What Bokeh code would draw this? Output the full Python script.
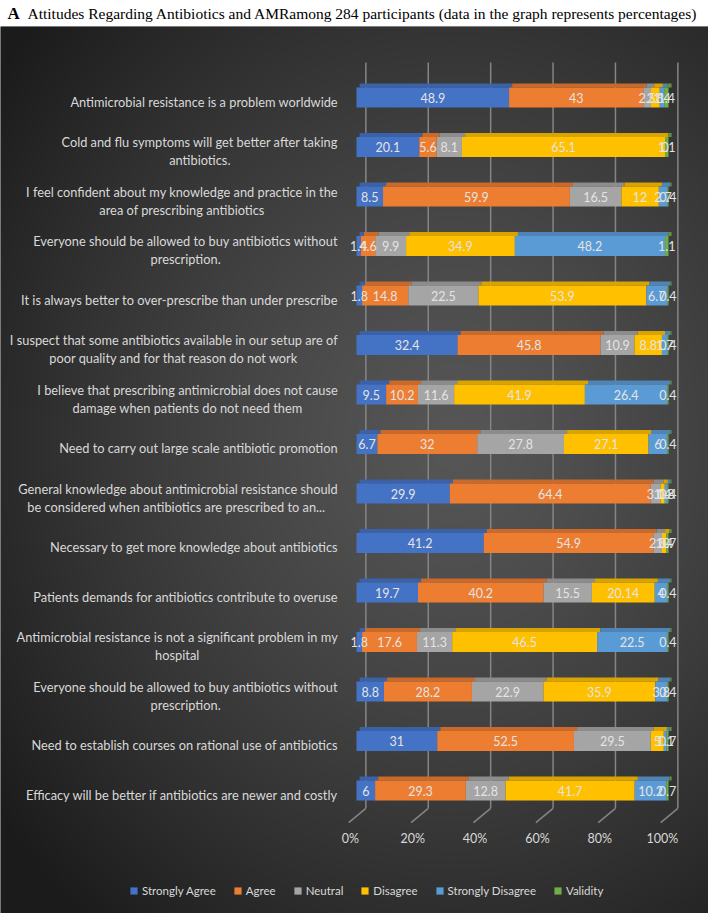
import subprocess
import numpy as np
from bokeh.plotting import figure
from bokeh.models import ColumnDataSource, Range1d, Legend, LegendItem
from bokeh.layouts import column
from bokeh.core.properties import value
from bokeh.transform import dodge
from bokeh.embed import file_html
from bokeh.resources import INLINE

# ---------------- data ----------------
statements = [
    "Antimicrobial resistance is a problem worldwide",
    "Cold and flu symptoms will get better after taking\nantibiotics.",
    "I feel confident about my knowledge and practice in the\narea of prescribing antibiotics",
    "Everyone should be allowed to buy antibiotics without\nprescription.",
    "It is always better to over-prescribe than under prescribe",
    "I suspect that some antibiotics available in our setup are of\npoor quality and for that reason do not work",
    "I believe that prescribing antimicrobial does not cause\ndamage when patients do not need them",
    "Need to carry out large scale antibiotic promotion",
    "General knowledge about antimicrobial resistance should\nbe considered when antibiotics  are prescribed to an...",
    "Necessary to get more knowledge about antibiotics",
    "Patients demands for antibiotics contribute to overuse",
    "Antimicrobial resistance is not a significant problem in my\nhospital",
    "Everyone should be allowed to buy antibiotics without\nprescription.",
    "Need to establish courses on rational use of antibiotics",
    "Efficacy will be better if antibiotics are newer and costly",
]
series_names = ["Strongly Agree", "Agree", "Neutral", "Disagree", "Strongly Disagree", "Validity"]
strongly_agree    = [48.9, 20.1, 8.5, 1.4, 1.8, 32.4, 9.5, 6.7, 29.9, 41.2, 19.7, 1.8, 8.8, 31, 6]
agree             = [43, 5.6, 59.9, 4.6, 14.8, 45.8, 10.2, 32, 64.4, 54.9, 40.2, 17.6, 28.2, 52.5, 29.3]
neutral           = [2.5, 8.1, 16.5, 9.9, 22.5, 10.9, 11.6, 27.8, 3.1, 2.8, 15.5, 11.3, 22.9, 29.5, 12.8]
disagree          = [2.8, 65.1, 12, 34.9, 53.9, 8.8, 41.9, 27.1, 1.4, 1.4, 20.14, 46.5, 35.9, 5.0, 41.7]
strongly_disagree = [1.4, 0, 2.7, 48.2, 6.7, 1.7, 26.4, 6, 0.8, 0, 4.0, 22.5, 3.8, 1.1, 10.2]
validity          = [1.4, 1.1, 0.4, 1.1, 0.4, 0.4, 0.4, 0.4, 0.4, 0.7, 0.4, 0.4, 0.4, 0.7, 0.7]
x_ticks = [0, 20, 40, 60, 80, 100]
x_tick_labels = ["0%", "20%", "40%", "60%", "80%", "100%"]

series_values = [strongly_agree, agree, neutral, disagree, strongly_disagree, validity]
colors = ["#4472C4", "#ED7D31", "#A5A5A5", "#FFC000", "#5B9BD5", "#70AD47"]
top_colors = ["#3B62A8", "#C9692A", "#8C8C8C", "#D9A300", "#4E85B6", "#5F933C"]

# ---------------- layout constants ----------------
W = 708
TITLE_H = 26
MAIN_H = 887
PX = 3.12          # px per percent
X0 = 356           # canvas px of 0 %
ROW0 = 71          # canvas px of first bar centre
ROWPX = 49.5       # px between bars
FONT = value("Lato")
TXT = "#D9D9D9"
LABEL_PX = 12.8
LABEL_RIGHT = -6.0  # data units (right edge of category labels)


def text_width_px(s, size):
    """Measure the rendered width of a line with the installed Lato font (fallback: estimate)."""
    try:
        from PIL import ImageFont
        path = subprocess.run(["fc-match", "-f", "%{file}", "Lato"], capture_output=True,
                              text=True).stdout.strip()
        f = ImageFont.truetype(path, 100)
        return f.getlength(s) * size / 100.0
    except Exception:
        return len(s) * size * 0.47


# ---------------- title ----------------
t = figure(width=W, height=TITLE_H, x_range=Range1d(0, W), y_range=Range1d(0, TITLE_H),
           output_backend="svg", toolbar_location=None, min_border=0)
t.axis.visible = False
t.grid.visible = False
t.outline_line_color = None
t.background_fill_color = "white"
t.border_fill_color = "white"
t.text(x=[7], y=[TITLE_H - 13], text=["A"], text_font=value("Liberation Serif"),
       text_font_style="bold", text_font_size="17px", text_baseline="middle", text_color="black")
t.text(x=[27], y=[TITLE_H - 13],
       text=["Attitudes Regarding Antibiotics and AMRamong 284 participants (data in the graph represents percentages)"],
       text_font=value("Liberation Serif"), text_font_size="15.5px", text_baseline="middle",
       text_color="black")

# ---------------- main chart ----------------
y_top = ROW0 / ROWPX
y_bot = -(MAIN_H - ROW0) / ROWPX
xr = Range1d(-X0 / PX, (W - X0) / PX)
yr = Range1d(y_bot, y_top)
p = figure(width=W, height=MAIN_H, x_range=xr, y_range=yr, output_backend="svg",
           toolbar_location=None, min_border=0)
p.axis.visible = False
p.grid.visible = False
p.outline_line_color = None
p.background_fill_color = "#333333"
p.border_fill_color = "#333333"

# radial gradient background
gh, gw = MAIN_H // 2, W // 2
vv, uu = np.mgrid[0:gh, 0:gw]
u = uu / (gw - 1)
v = 1 - vv / (gh - 1)          # row 0 = bottom
d = np.sqrt(((u - 0.64) / 0.80) ** 2 + ((v - 0.47) / 0.72) ** 2)
d = np.clip(d, 0, 1)
c_in, c_out = 0x56, 0x1B
g = (c_in + (c_out - c_in) * d ** 1.3).astype(np.uint8)
img = np.empty((gh, gw), dtype=np.uint32)
view = img.view(dtype=np.uint8).reshape((gh, gw, 4))
view[:, :, 0] = g
view[:, :, 1] = g
view[:, :, 2] = g
view[:, :, 3] = 255
p.image_rgba(image=[img], x=xr.start, y=yr.start, dw=xr.end - xr.start, dh=yr.end - yr.start)

n = len(statements)
ys = [-i for i in range(n)]

# gridlines (back plane) with perspective feet
tk = np.array(x_ticks, dtype=float)
back_top = 0.707
back_bot = -14.36
front = -14.65
p.segment(x0=tk + 3, y0=[back_top] * len(tk), x1=tk + 3, y1=[back_bot] * len(tk),
          line_color="#858585", line_width=1.5)
p.segment(x0=tk + 3, y0=[back_bot] * len(tk), x1=tk - 2.5, y1=[front] * len(tk),
          line_color="#858585", line_width=1.5)
p.text(x=tk - 2, y=[-14.97] * len(tk), text=x_tick_labels, text_font=FONT, text_font_size="12.5px",
       text_align="center", text_baseline="middle", text_color=TXT)

# stacked bars (100 % normalised)
vals = np.array(series_values, dtype=float)
totals = vals.sum(axis=0)
pct = vals / totals * 100
cum = np.vstack([np.zeros(n), np.cumsum(pct, axis=0)])
FACE_H = 20 / ROWPX
TOP_H = 4 / ROWPX
renderers = []
for k, name in enumerate(series_names):
    left = cum[k]
    right = cum[k + 1]
    src = ColumnDataSource(dict(y=ys, left=left, right=right))
    p.hbar(y=dodge("y", FACE_H / 2 + TOP_H / 2), left=dodge("left", 1.0), right=dodge("right", 1.0),
           height=TOP_H, source=src, fill_color=top_colors[k], line_color=None)
    r = p.hbar(y="y", left="left", right="right", height=FACE_H, source=src,
               fill_color=colors[k], line_color=None)
    renderers.append(r)
for k, name in enumerate(series_names):
    left = cum[k]
    right = cum[k + 1]
    src = ColumnDataSource(dict(y=ys, mid=(left + right) / 2,
                                lab=[f"{x:g}" for x in series_values[k]]))
    p.text(x="mid", y="y", text="lab", source=src, text_font=FONT, text_font_size="12.5px",
           text_align="center", text_baseline="middle", text_color="#E4E4E4")

# category labels: block right edge fixed, lines centred inside the block
block_w = [max(text_width_px(line, LABEL_PX) for line in s.split("\n")) for s in statements]
label_cx = [LABEL_RIGHT - w / 2 / PX for w in block_w]
cat_src = ColumnDataSource(dict(y=ys, t=statements, cx=label_cx))
p.text(x="cx", y=dodge("y", -0.09), text="t", source=cat_src, text_font=FONT,
       text_font_size=f"{LABEL_PX}px", text_align="center", text_baseline="middle", text_color=TXT,
       text_line_height=1.13)

# legend
legend = Legend(items=[LegendItem(label=nm, renderers=[r]) for nm, r in zip(series_names, renderers)],
                orientation="horizontal", location=(129, 16), background_fill_alpha=0,
                border_line_alpha=0, padding=0, margin=0, spacing=17, label_standoff=4,
                glyph_width=9, glyph_height=9, label_text_font="Lato", label_text_font_size="11.5px",
                label_text_color=TXT)
p.add_layout(legend, "center")

layout = column(t, p, spacing=0)
open("out.html", "w").write(file_html(layout, INLINE))
